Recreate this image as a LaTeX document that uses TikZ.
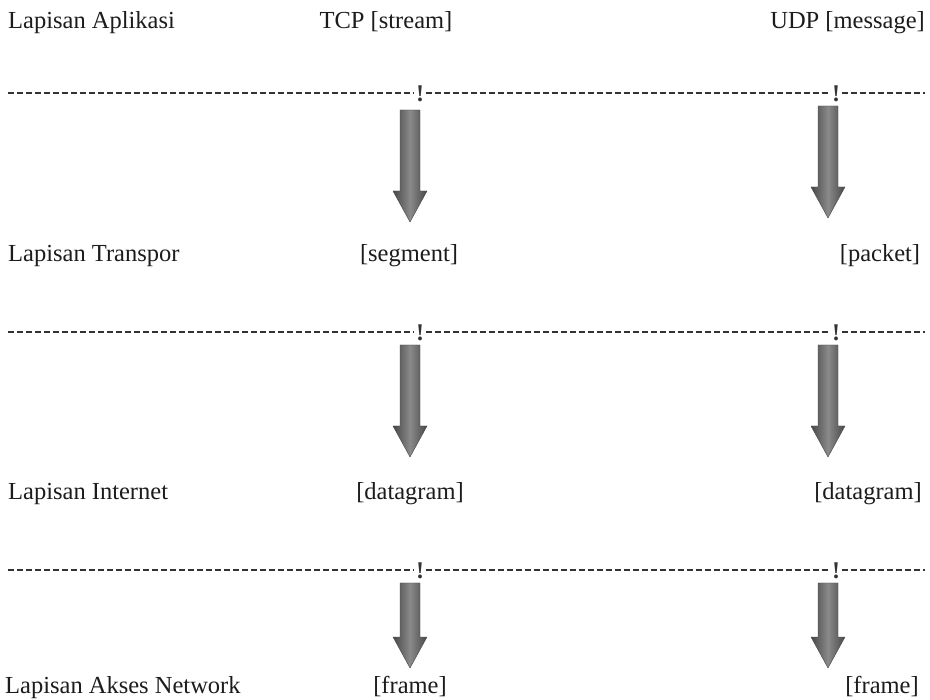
\documentclass[tikz,border=0pt]{standalone}
\usepackage{fontspec}
\setmainfont{Liberation Serif}
\usetikzlibrary{calc}
\definecolor{ink}{HTML}{1C1C1C}
\definecolor{rule}{HTML}{333333}
\definecolor{arrowedge}{HTML}{474747}
\definecolor{arrowmid}{HTML}{8A8A8A}
\tikzset{
  lbl/.style={font=\fontsize{24.5}{28}\selectfont, text=ink, inner sep=0pt, anchor=base},
  layerlbl/.style={lbl, anchor=base west},
  sepline/.style={draw=rule, line width=1.4pt, dash pattern=on 6pt off 3pt},
  bang/.style={font=\fontsize{24}{26}\selectfont\bfseries, text=rule, inner sep=1.5pt},
  fatarrow/.style={left color=arrowedge, right color=arrowedge, middle color=arrowmid,
                   draw=arrowedge, line width=0.4pt}
}
% thick shaded down arrow from coordinate #1 (top of shaft) to coordinate #2 (tip)
\newcommand\flowarrow[2]{%
  \path[fatarrow] ($(#1)+(-10,0)$) -- ($(#1)+(10,0)$) -- ($(#2)+(10,-31)$)
    -- ($(#2)+(17,-31)$) -- (#2) -- ($(#2)+(-17,-31)$) -- ($(#2)+(-10,-31)$) -- cycle;}
% dashed separator from #1 to #4, broken by the marks #2 and #3
\newcommand\separator[4]{%
  \draw[sepline] (#1) -- (#1 -| #2.west);
  \draw[sepline] (#1 -| #2.east) -- (#1 -| #3.west);
  \draw[sepline] (#1 -| #3.east) -- (#4);}
\begin{document}
\begin{tikzpicture}[x=1pt,y=-1pt]
\useasboundingbox[fill=white] (0,0) rectangle (930,700);

% row 1: application layer
\node[layerlbl] (app) at (8,29) {Lapisan Aplikasi};
\node[lbl] (tcp) at (386,29) {TCP [stream]};
\node[lbl, anchor=base east] (udp) at (925,29) {UDP [message]};

% row 2: transport layer
\node[layerlbl] (trans) at (8,262) {Lapisan Transpor};
\node[lbl] (seg) at (409,262) {[segment]};
\node[lbl] (pkt) at (880,262) {[packet]};

% row 3: internet layer
\node[layerlbl] (inet) at (8,500) {Lapisan Internet};
\node[lbl] (dgA) at (410,500) {[datagram]};
\node[lbl] (dgB) at (868,500) {[datagram]};

% row 4: network access layer
\node[layerlbl] (nacc) at (5,693) {Lapisan Akses Network};
\node[lbl] (frA) at (410,693) {[frame]};
\node[lbl] (frB) at (882,693) {[frame]};

% separators
\foreach \n/\y in {1/93, 2/332, 3/570}{
  \coordinate (s\n a) at (8,\y);
  \coordinate (s\n b) at (925,\y);
  \node[bang] (m\n a) at (420,\y+1) {!};
  \node[bang] (m\n b) at (836,\y+1) {!};
  \separator{s\n a}{m\n a}{m\n b}{s\n b}
}

% arrows between layers
\coordinate (t1s) at (410,110); \coordinate (t1e) at (410,222);
\coordinate (u1s) at (828,106); \coordinate (u1e) at (828,218);
\coordinate (t2s) at (410,345); \coordinate (t2e) at (410,457);
\coordinate (u2s) at (828,345); \coordinate (u2e) at (828,457);
\coordinate (t3s) at (410,583); \coordinate (t3e) at (410,668);
\coordinate (u3s) at (828,583); \coordinate (u3e) at (828,668);
\flowarrow{t1s}{t1e}
\flowarrow{u1s}{u1e}
\flowarrow{t2s}{t2e}
\flowarrow{u2s}{u2e}
\flowarrow{t3s}{t3e}
\flowarrow{u3s}{u3e}
\end{tikzpicture}
\end{document}
